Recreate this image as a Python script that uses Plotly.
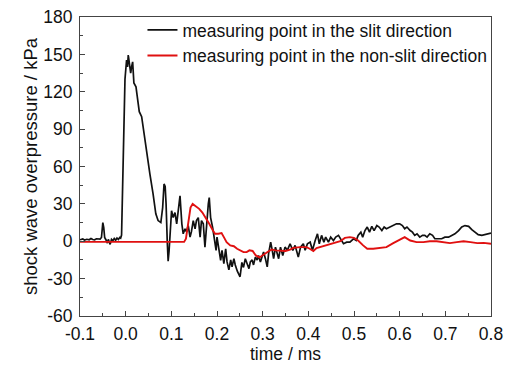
import plotly.graph_objects as go

# ---- data ----
t_slit = [-0.100, -0.094, -0.090, -0.085, -0.080, -0.076, -0.072, -0.068, -0.064, -0.060,
          -0.056, -0.053, -0.051, -0.050, -0.048, -0.046, -0.043, -0.040, -0.038, -0.036,
          -0.034, -0.031, -0.028, -0.025, -0.022, -0.019, -0.016, -0.013, -0.011, -0.009,
          -0.005, -0.0015, 0.002, 0.004, 0.0057, 0.008, 0.011, 0.013, 0.0153, 0.018,
          0.0226, 0.0254, 0.0298, 0.035, 0.0386, 0.046, 0.053, 0.060, 0.066, 0.071,
          0.077, 0.081, 0.084, 0.0865, 0.0885, 0.091, 0.093, 0.095, 0.097, 0.1005,
          0.104, 0.108, 0.1117, 0.115, 0.119, 0.123, 0.126, 0.130, 0.133, 0.137,
          0.141, 0.144, 0.148, 0.152, 0.155, 0.159, 0.163, 0.166, 0.170, 0.1736,
          0.177, 0.181, 0.183, 0.186, 0.1905, 0.193, 0.198, 0.200, 0.204, 0.208,
          0.211, 0.215, 0.219, 0.222, 0.226, 0.230, 0.233, 0.237, 0.240, 0.2445,
          0.2505, 0.2545, 0.258, 0.262, 0.266, 0.270, 0.273, 0.277, 0.280, 0.284,
          0.288, 0.291, 0.295, 0.299, 0.302, 0.306, 0.310, 0.313, 0.3175, 0.321,
          0.324, 0.328, 0.332, 0.335, 0.339, 0.344, 0.349, 0.354, 0.360, 0.366,
          0.371, 0.378, 0.383, 0.389, 0.393, 0.398, 0.404, 0.409, 0.415, 0.420,
          0.424, 0.429, 0.434, 0.438, 0.444, 0.449, 0.455, 0.460, 0.466, 0.471,
          0.477, 0.484, 0.491, 0.499, 0.505, 0.509, 0.515, 0.519, 0.524, 0.529,
          0.534, 0.539, 0.544, 0.550, 0.555, 0.561, 0.566, 0.571, 0.579, 0.586,
          0.593, 0.600, 0.606, 0.611, 0.616, 0.623, 0.628, 0.633, 0.638, 0.644,
          0.650, 0.655, 0.660, 0.666, 0.672, 0.677, 0.685, 0.692, 0.699, 0.707,
          0.714, 0.721, 0.729, 0.736, 0.743, 0.751, 0.758, 0.765, 0.772, 0.780,
          0.787, 0.794, 0.800]
p_slit = [1.2, 1.8, 1.0, 1.6, 1.2, 2.2, 1.4, 1.2, 2.0, 1.6,
          1.8, 3.0, 12.0, 15.0, 11.0, 3.0, 1.0, -1.5, 1.5, 0.0,
          -2.5, 1.5, 0.5, 2.2, 0.8, 2.5, 1.5, 3.0, 2.5, 5.0,
          84, 130, 145.5, 140, 149.5, 143, 135, 140, 144, 127,
          124, 116, 104, 100, 90, 72, 54, 38, 22, 16.6,
          15, 27, 46, 44, 30, 0.6, -16, -8, 8.6, 24.5,
          19, 23, 14, 27, 36.5, 14, 6, 10, 7.7, 12.6,
          3.3, 7.7, 16.6, 10, 16.6, 19, 3.3, 16.6, 14, -4.7,
          14, 30, 35, 19, 11, 3.3, -7.3, 3.3, -4.7, -15.3,
          -7.3, -18, -6, -16.6, -23, -15, -20.6, -14, -19, -24,
          -28.5, -17, -21, -14, -18, -22, -16.6, -15, -19, -12.7,
          -15, -11.4, -16.6, -11.4, -8.7, -14, -20.6, -10, -0.7, -7.3,
          -14, -4.7, -10, -14, -4.7, -11.4, -4.7, -7.3, -2, -7.3,
          -3.3, -12.7, -4.7, -2, -7.3, -2, -0.7, -7.3, 0.6, 6,
          -2, 4.7, -0.7, 3.3, -0.7, 3.3, 0.6, 3.3, 4.7, 2,
          -2, -0.7, -0.7, 2, 0.6, 4.7, 7.3, 3.3, 8.6, 11.4,
          7.3, 12, 8.6, 12.6, 11.4, 8.6, 11.4, 10, 11.4, 12.6,
          14, 14, 12.6, 10, 11.4, 8.6, 7.3, 4.7, 6, 3.3,
          4.7, 4.7, 3.3, 6, 4.7, 2, 2, 2, 3.3, 3.3,
          4.7, 6, 8.6, 11.4, 12.6, 12, 9.3, 7.3, 5.3, 4.7,
          5.3, 6, 6.6]

t_nonslit = [-0.100, 0.000, 0.050, 0.100, 0.128, 0.132, 0.137, 0.142, 0.1467, 0.153,
             0.161, 0.168, 0.175, 0.183, 0.1905, 0.1955, 0.203, 0.210, 0.215, 0.221,
             0.229, 0.237, 0.244, 0.250, 0.258, 0.265, 0.271, 0.278, 0.285, 0.293,
             0.298, 0.305, 0.313, 0.320, 0.328, 0.339, 0.350, 0.360, 0.367, 0.382,
             0.396, 0.403, 0.411, 0.418, 0.426, 0.440, 0.455, 0.470, 0.480, 0.491,
             0.500, 0.509, 0.520, 0.529, 0.542, 0.557, 0.571, 0.586, 0.600, 0.611,
             0.623, 0.637, 0.652, 0.666, 0.681, 0.696, 0.710, 0.725, 0.740, 0.755,
             0.770, 0.784, 0.800]
p_nonslit = [-0.5, -0.5, -0.3, -0.6, -0.5, 2, 14, 27, 30, 28.5,
             26, 23, 19, 14, 9, 6, 6, 6.6, 3.3, -0.7,
             -3.3, -4, -6, -7.3, -8.7, -8.7, -7.3, -7.8, -11.4, -13,
             -12, -10, -8, -6.7, -7.3, -7.3, -7.8, -6.7, -5.3, -4.7,
             -4.7, -6, -7.8, -5.5, -4.7, -3.3, -1.5, 0, 2.7, 3.3,
             2.7, 0.6, -3.3, -6, -6, -5.3, -4.7, -1.5, 1.3, 3.3,
             0.6, -0.7, -0.7, 0, 0, -0.7, -1.5, -0.7, 0, -0.7,
             -1.5, -1.3, -2]

x_ticks = [-0.1, 0.0, 0.1, 0.2, 0.3, 0.4, 0.5, 0.6, 0.7, 0.8]
x_tick_labels = ["-0.1", "0.0", "0.1", "0.2", "0.3", "0.4", "0.5", "0.6", "0.7", "0.8"]
y_ticks = [-60, -30, 0, 30, 60, 90, 120, 150, 180]
y_tick_labels = ["-60", "-30", "0", "30", "60", "90", "120", "150", "180"]

names = ["measuring point in the slit direction",
         "measuring point in the non-slit direction"]

FONT = "Liberation Sans, Arial, sans-serif"
TXT = "#111111"

fig = go.Figure()
fig.add_trace(go.Scatter(x=t_slit, y=p_slit, mode="lines", name=names[0],
                         line=dict(color="#111111", width=1.7)))
fig.add_trace(go.Scatter(x=t_nonslit, y=p_nonslit, mode="lines", name=names[1],
                         line=dict(color="#e01010", width=1.9)))

axis_common = dict(showline=True, linecolor="#444444", linewidth=1, mirror=True,
                   ticks="inside", ticklen=5, tickcolor="#444444", showgrid=False,
                   zeroline=False, automargin=False,
                   tickfont=dict(family=FONT, size=17.5, color=TXT))

fig.update_xaxes(range=[-0.1, 0.8], tickvals=x_ticks, ticktext=x_tick_labels,
                 ticklabelstandoff=2,
                 minor=dict(ticks="inside", ticklen=3, dtick=0.05, tick0=0,
                            tickcolor="#444444"),
                 title=dict(text="time / ms", font=dict(family=FONT, size=17.5, color=TXT),
                            standoff=2),
                 **axis_common)
fig.update_yaxes(range=[-60, 180], tickvals=y_ticks, ticktext=y_tick_labels,
                 ticklabelstandoff=3,
                 minor=dict(ticks="inside", ticklen=3, dtick=15, tick0=0,
                            tickcolor="#444444"),
                 title=dict(text="shock wave overpressure / kPa",
                            font=dict(family=FONT, size=18.5, color=TXT), standoff=0),
                 **axis_common)

fig.update_layout(
    width=510, height=365,
    margin=dict(l=80, r=19, t=15, b=49),
    paper_bgcolor="white", plot_bgcolor="white",
    showlegend=True,
    legend=dict(x=0.152, y=1.017, xanchor="left", yanchor="top",
                bgcolor="rgba(0,0,0,0)", borderwidth=0,
                font=dict(family=FONT, size=17.5, color=TXT),
                tracegroupgap=0),
)

fig.write_html("out.html")
